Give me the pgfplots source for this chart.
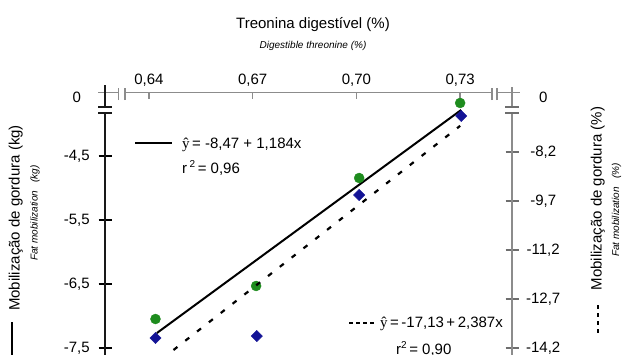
\documentclass[border=0pt]{standalone}
\usepackage{pgfplots}
\pgfplotsset{compat=1.18}
\usepackage{fontspec}
\setmainfont{Liberation Sans}
\newfontfamily\serif{Liberation Serif}
\definecolor{ptgreen}{RGB}{30,140,30}
\definecolor{ptblue}{RGB}{20,20,150}
\definecolor{axgray}{RGB}{140,140,140}
\definecolor{tkgray}{RGB}{110,110,110}
\newcommand\bigtxt{\fontsize{15bp}{18bp}\selectfont}
\newcommand\smalltxt{\fontsize{10bp}{12bp}\selectfont}
\begin{document}
\begin{tikzpicture}[x=1bp,y=1bp]
% ---------------- left axis (kg) ----------------
\begin{axis}[
  at={(105bp,2bp)}, anchor=south west,
  width=407bp, height=259bp, scale only axis,
  xmin=0.6273, xmax=0.745, ymin=-7.5625, ymax=-3.516,
  axis x line*=top, axis y line*=left,
  axis line style={draw=none},
  major tick length=0pt,
  xtick={0.64,0.67,0.70,0.73},
  xticklabels={{0,64},{0,67},{0,70},{0,73}},
  ytick={-3.578,-4.5,-5.5,-6.5,-7.5},
  yticklabels={0,{-4,5},{-5,5},{-6,5},{-7,5}},
  xticklabel style={anchor=base, yshift=8bp, inner sep=0pt, font=\bigtxt},
  yticklabel style={anchor=east, text width=40bp, align=center, inner sep=0pt, xshift=-8bp, font=\bigtxt},
  clip=false,
]
\addplot[only marks, mark=*, mark size=5bp, ptgreen] coordinates {
  (0.6419,-7.047) (0.6710,-6.531) (0.7008,-4.844) (0.7300,-3.672)
};
\addplot[black, line width=2bp] coordinates {(0.6423,-7.266) (0.7303,-3.781)};
\pgfplotsinvokeforeach{0.64,0.67,0.70,0.73}{
  \draw[axgray, line width=1.3bp] (axis cs:#1,-3.516) -- ++(0bp,-6.5bp);
}
\pgfplotsinvokeforeach{-4.5,-5.5,-6.5,-7.5}{
  \draw[black, line width=1.5bp] (axis cs:0.6273,#1) ++(-6.5bp,0bp) -- ++(13bp,0bp);
}
\end{axis}
% ---------------- right axis (%) ----------------
\begin{axis}[
  at={(105bp,2bp)}, anchor=south west,
  width=407bp, height=259bp, scale only axis,
  xmin=0.6273, xmax=0.745, ymin=-14.316, ymax=-6.396,
  axis x line=none, axis y line*=right,
  axis line style={draw=none},
  major tick length=0pt,
  ytick={-6.518,-8.2,-9.7,-11.2,-12.7,-14.2},
  yticklabels={0,{-8,2},{-9,7},{-11,2},{-12,7},{-14,2}},
  yticklabel style={anchor=west, text width=40bp, align=center, inner sep=0pt, xshift=11bp, font=\bigtxt},
  clip=false,
]
\addplot[only marks, mark=square*, mark size=4bp, mark options={rotate=45}, ptblue] coordinates {
  (0.6419,-13.888) (0.6712,-13.827) (0.7008,-9.515) (0.7303,-7.099)
};
\addplot[black, line width=2.2bp, dash pattern=on 5bp off 10bp] coordinates {(0.6471,-14.255) (0.7300,-7.40)};
\pgfplotsinvokeforeach{-8.2,-9.7,-11.2,-12.7,-14.2}{
  \draw[tkgray, line width=1.5bp] (axis cs:0.745,#1) ++(-6.5bp,0bp) -- ++(13bp,0bp);
}
\end{axis}
% ---------------- axis lines and breaks ----------------
\draw[axgray, line width=1.5bp] (98,261.5) -- (118.3,261.5);
\draw[axgray, line width=1.5bp] (125,261.5) -- (492,261.5);
\draw[axgray, line width=1.5bp] (497,261.5) -- (520,261.5);
\draw[axgray, line width=1.5bp] (118.3,254) -- (118.3,266.3);
\draw[axgray, line width=1.5bp] (125,254) -- (125,266.3);
\draw[axgray, line width=1.5bp] (492,254) -- (492,266.3);
\draw[axgray, line width=1.5bp] (497,254) -- (497,266.3);
% left axis
\draw[black!90, line width=2bp] (105,269) -- (105,247.3);
\draw[black!90, line width=2bp] (105,240.7) -- (105,-2);
\draw[black!90, line width=1.8bp] (98,247.3) -- (112,247.3);
\draw[black!90, line width=1.8bp] (98,240.7) -- (112,240.7);
% right axis
\draw[axgray, line width=2bp] (512,267) -- (512,247.3);
\draw[axgray, line width=2bp] (512,240.7) -- (512,-2);
\draw[tkgray, line width=1.8bp] (505,247.3) -- (518.5,247.3);
\draw[tkgray, line width=1.8bp] (505,240.7) -- (518.5,240.7);
% ---------------- titles and labels ----------------
\node[anchor=base, inner sep=0pt, font=\bigtxt] at (313,325.7) {Treonina digestível (\%)};
\node[anchor=base, inner sep=0pt, font=\smalltxt\itshape] at (313,306) {Digestible threonine (\%)};
\node[rotate=90, anchor=base, inner sep=0pt, font=\bigtxt] at (19.5,136) {Mobilização de gordura (kg)};
\node[rotate=90, anchor=base, inner sep=0pt, font=\smalltxt\itshape] at (37.5,141) {Fat mobilization\ \ \ (kg)};
\node[rotate=90, anchor=base, inner sep=0pt, font=\bigtxt] at (601.5,155.5) {Mobilização de gordura (\%)};
\node[rotate=90, anchor=base, inner sep=0pt, font=\smalltxt\itshape] at (619,144) {Fat mobilization\ \ \ (\%)};
\draw[black, line width=2bp] (12,32) -- (12,-5);
\draw[black, line width=1.4bp, dash pattern=on 4bp off 4bp] (598,49) -- (598,17);
% ---------------- equations ----------------
\draw[black, line width=2bp] (135,211) -- (172,211);
\node[anchor=base west, inner sep=0pt, font=\bigtxt] at (182,206) {{\serif ŷ}\,=\ -8,47\ +\ 1,184x};
\node[anchor=base west, inner sep=0pt, font=\bigtxt] at (182,181) {r\,\raisebox{6bp}{\fontsize{10bp}{10bp}\selectfont 2}\,=\ 0,96};
\draw[black, line width=1.4bp, dash pattern=on 4bp off 3bp] (349,31) -- (376,31);
\node[anchor=base west, inner sep=0pt, font=\bigtxt] at (380,27) {{\serif ŷ}\,=\,-17,13\,+\,2,387x};
\node[anchor=base west, inner sep=0pt, font=\bigtxt] at (396,0) {r\raisebox{6bp}{\fontsize{10bp}{10bp}\selectfont 2}\,=\ 0,90};
\pgfresetboundingbox
\useasboundingbox (0,0) rectangle (624,354);
\end{tikzpicture}
\end{document}
